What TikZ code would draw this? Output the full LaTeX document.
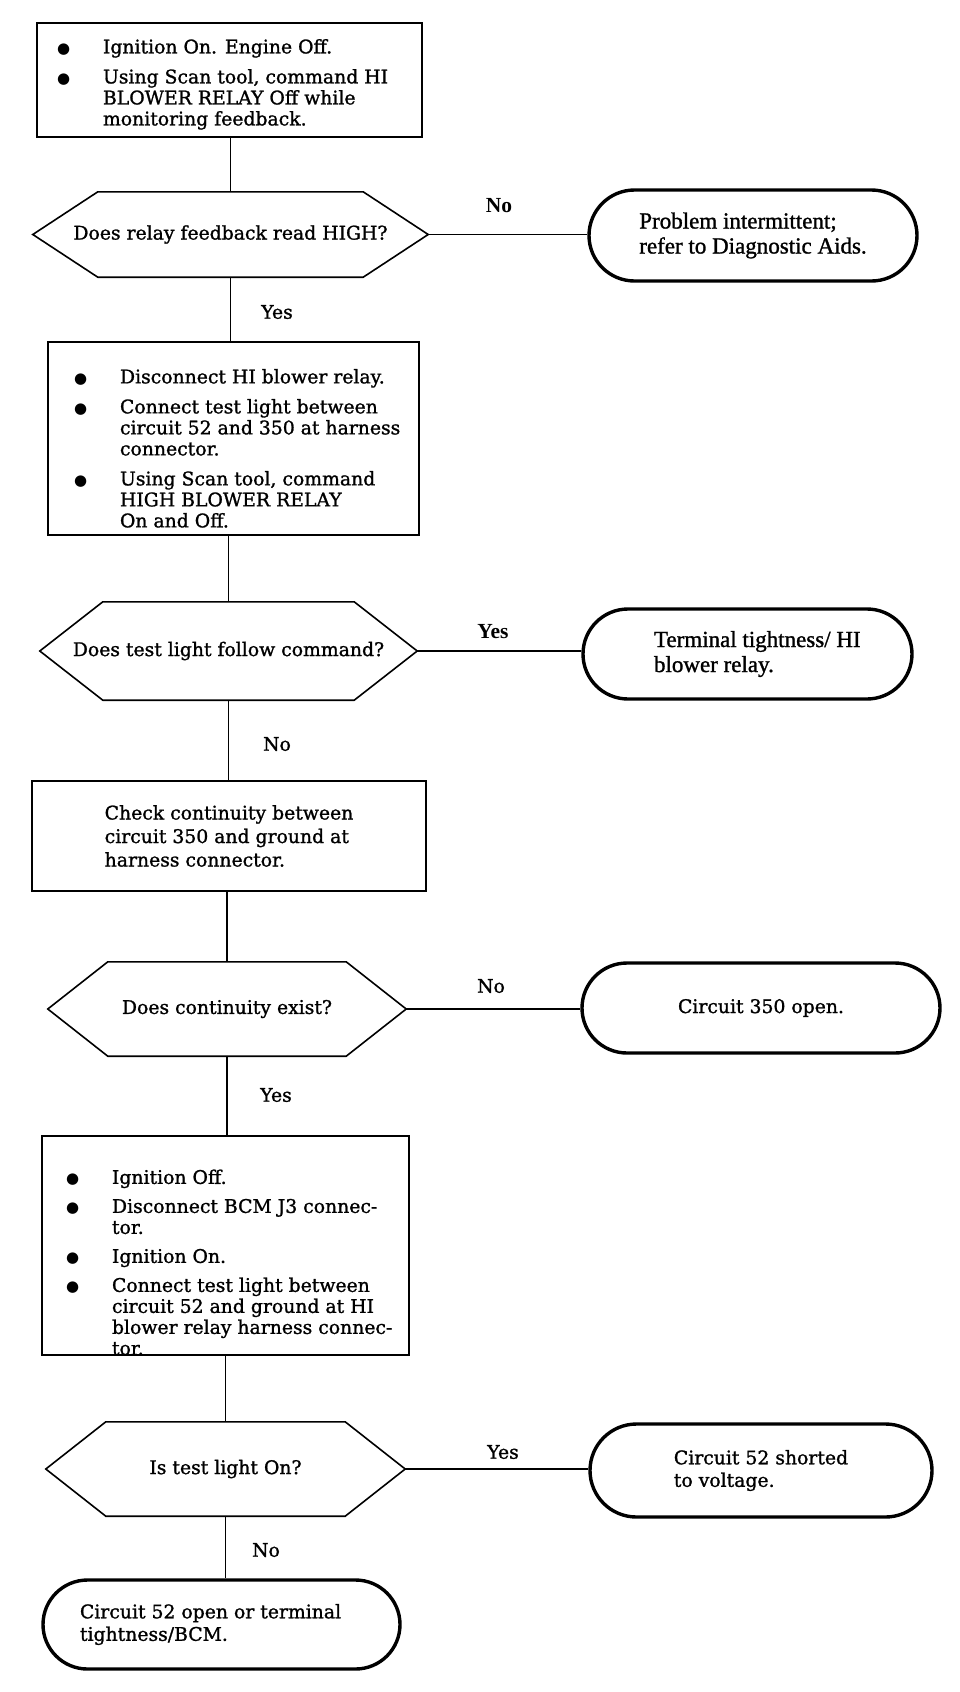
\documentclass[tikz,border=0pt]{standalone}
\usepackage{fontspec}
\usetikzlibrary{shapes.misc,calc}
\newfontfamily\sbf[FakeBold=1.2]{DejaVu Serif}
\newfontfamily\tmf[FakeBold=1.2]{Liberation Serif}
\newfontfamily\tmbf{Liberation Serif Bold}
\newfontfamily\symf{DejaVu Sans}
\newlength\bw
\newcommand\bit[1]{\makebox[\bw][l]{\makebox[46pt][l]{{\symf\fontsize{15}{15}\selectfont ●}}#1}}
\newcommand\bco[1]{\makebox[\bw][l]{\hspace*{46pt}#1}}
\newcommand\hexpath[2]{\draw[hexline] (#1.west) -- ([xshift=#2]#1.north west) -- ([xshift=-#2]#1.north east) -- (#1.east) -- ([xshift=-#2]#1.south east) -- ([xshift=#2]#1.south west) -- cycle;}
\begin{document}
\begin{tikzpicture}[x=1pt,y=-1pt,
  procbox/.style={draw, line width=1.9pt, inner sep=0pt, align=left, font=\sbf\fontsize{18.8}{21}\selectfont},
  hexnode/.style={inner sep=0pt, font=\sbf\fontsize{18.8}{21}\selectfont},
  hexline/.style={line width=1.6pt, line join=miter},
  termbox/.style={rounded rectangle, draw, line width=3.4pt, inner sep=0pt, align=left},
  termtm/.style={termbox, font=\tmf\fontsize{23}{25}\selectfont},
  termsb/.style={termbox, font=\sbf\fontsize{18.8}{22.5}\selectfont},
  link/.style={line width=1.6pt},
  lbl/.style={font=\sbf\fontsize{18.8}{21}\selectfont},
  lbltm/.style={font=\tmbf\fontsize{21.5}{23}\selectfont}]
\fill[white] (0,0) rectangle (960,1692);
\useasboundingbox (0,0) rectangle (960,1692);

% box 1
\setlength{\bw}{345pt}
\node[procbox, minimum width=385pt, minimum height=114pt] (b1) at (229.5,80)
  {\rule{0pt}{23pt}\bit{Ignition On. Engine Off.}\\[9pt]
   \bit{Using Scan tool, command HI}\\
   \bco{BLOWER RELAY Off while}\\
   \bco{monitoring feedback.}};

% hex 1
\node[hexnode, minimum width=395pt, minimum height=85pt] (h1) at (230.5,234.5)
  {Does relay feedback read HIGH?\hspace{16pt}};
\hexpath{h1}{65pt}

\node[termtm, minimum width=328pt, minimum height=91pt] (t1) at (753,235.5)
  {Problem intermittent;\\refer to Diagnostic Aids.};

% box 2
\setlength{\bw}{319pt}
\node[procbox, minimum width=371pt, minimum height=193pt] (b2) at (233.5,438.5)
  {\rule{0pt}{34pt}\bit{Disconnect HI blower relay.}\\[9pt]
   \bit{Connect test light between}\\
   \bco{circuit 52 and 350 at harness}\\
   \bco{connector.}\\[9pt]
   \bit{Using Scan tool, command}\\
   \bco{HIGH BLOWER RELAY}\\
   \bco{On and Off.}};

% hex 2
\node[hexnode, minimum width=377pt, minimum height=98pt] (h2) at (228.5,651)
  {Does test light follow command?\hspace{7pt}};
\hexpath{h2}{63pt}

\node[termtm, minimum width=329pt, minimum height=90pt] (t2) at (747.5,654)
  {\makebox[187pt][l]{Terminal tightness/ HI}\\\makebox[187pt][l]{blower relay.}};

% box 3
\node[procbox, minimum width=394pt, minimum height=110pt, font=\sbf\fontsize{18.8}{23.5}\selectfont] (b3) at (229,836)
  {Check continuity between\\circuit 350 and ground at\\harness connector.};

% hex 3
\node[hexnode, minimum width=358pt, minimum height=94pt] (h3) at (227,1009)
  {Does continuity exist?\hspace{17pt}};
\hexpath{h3}{60pt}

\node[termsb, minimum width=358pt, minimum height=90pt] (t3) at (761,1008)
  {Circuit 350 open.};

% box 4
\setlength{\bw}{319pt}
\node[procbox, minimum width=367pt, minimum height=213pt] (b4) at (225.5,1245.5)
  {\rule{0pt}{48pt}\bit{Ignition Off.}\\[8pt]
   \bit{Disconnect BCM J3 connec-}\\
   \bco{tor.}\\[8pt]
   \bit{Ignition On.}\\[8pt]
   \bit{Connect test light between}\\
   \bco{circuit 52 and ground at HI}\\
   \bco{blower relay harness connec-}\\
   \bco{tor.}};

% hex 4
\node[hexnode, minimum width=359pt, minimum height=94pt] (h4) at (225.5,1469)
  {Is test light On?\hspace{21pt}};
\hexpath{h4}{60pt}

\node[termsb, minimum width=342pt, minimum height=93pt] (t4) at (761,1470.5)
  {Circuit 52 shorted\\to voltage.};

\node[termsb, minimum width=357pt, minimum height=89pt] (t5) at (221.5,1624.5)
  {\makebox[283pt][l]{Circuit 52 open or terminal}\\\makebox[283pt][l]{tightness/BCM.}};

% connectors
\draw[link] (h1.north) -- (h1.north |- b1.south);
\draw[link] (h1.south) -- (h1.south |- b2.north);
\draw[link] (h1.east) -- (h1.east -| t1.west);
\draw[link] (h2.north) -- (h2.north |- b2.south);
\draw[link] (h2.south) -- (h2.south |- b3.north);
\draw[link] (h2.east) -- (h2.east -| t2.west);
\draw[link] (h3.north) -- (h3.north |- b3.south);
\draw[link] (h3.south) -- (h3.south |- b4.north);
\draw[link] (h3.east) -- (h3.east -| t3.west);
\draw[link] (h4.north) -- (h4.north |- b4.south);
\draw[link] (h4.south) -- (h4.south |- t5.north);
\draw[link] (h4.east) -- (h4.east -| t4.west);

% labels
\node[lbl] (l1y) at (277,312) {Yes};
\node[lbltm] (l1n) at (499,206) {No};
\node[lbltm] (l2y) at (493,632) {Yes};
\node[lbl] (l2n) at (277,744) {No};
\node[lbl] (l3n) at (491,986) {No};
\node[lbl] (l3y) at (276,1095) {Yes};
\node[lbl] (l4y) at (503,1452) {Yes};
\node[lbl] (l4n) at (266,1550) {No};
\end{tikzpicture}
\end{document}
